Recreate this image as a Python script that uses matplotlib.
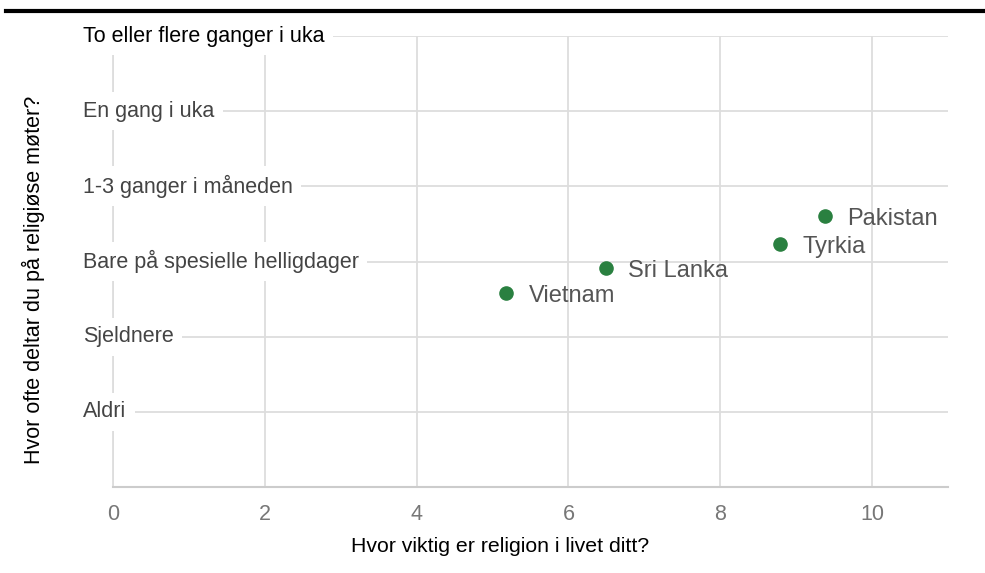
import matplotlib.pyplot as plt

plt.rcParams['font.family'] = ['Liberation Sans', 'DejaVu Sans']

frekvens = ['Aldri', 'Sjeldnere', 'Bare på spesielle helligdager',
            '1-3 ganger i måneden', 'En gang i uka', 'To eller flere ganger i uka']
land = ['Vietnam', 'Sri Lanka', 'Tyrkia', 'Pakistan']
viktighet = [5.18, 6.49, 8.79, 9.38]
deltakelse = [2.58, 2.91, 3.23, 3.60]
x_ticks = [0, 2, 4, 6, 8, 10]

fig = plt.figure(figsize=(9.85, 5.73), dpi=100)
ax = fig.add_axes([0.1147, 0.1501, 0.8477, 0.787])

ax.set_xlim(0, 11)
ax.set_ylim(0, 6)
ax.set_xticks(x_ticks)
ax.set_yticks(range(1, 7))
ax.set_yticklabels([])
ax.tick_params(axis='both', length=0)
ax.tick_params(axis='x', labelsize=15.5, labelcolor='#777777', pad=12)
ax.grid(True, color='#dddddd', linewidth=1.3)
ax.set_axisbelow(True)
for s in ['top', 'right']:
    ax.spines[s].set_visible(False)
ax.spines['left'].set_color('#dddddd')
ax.spines['left'].set_linewidth(1.3)
ax.spines['bottom'].set_color('#cccccc')
ax.spines['bottom'].set_linewidth(1.5)

# kategorinavn inne i plottet, med hvit bakgrunn
for i, navn in enumerate(frekvens):
    farge = 'black' if i == len(frekvens) - 1 else '#444444'
    ax.text(-0.036, i + 1, navn, transform=ax.get_yaxis_transform(),
            ha='left', va='center', fontsize=15.5, color=farge, clip_on=False,
            bbox=dict(facecolor='white', edgecolor='none', pad=6), zorder=3)

ax.scatter(viktighet, deltakelse, s=90, color='#2a8040', zorder=4)
for x, y, navn in zip(viktighet, deltakelse, land):
    ax.annotate(navn, (x, y), xytext=(16, -2), textcoords='offset points',
                va='center', ha='left', fontsize=17, color='#555555', zorder=4)

ax.set_xlabel('Hvor viktig er religion i livet ditt?', fontsize=15.3)
ax.xaxis.set_label_coords(0.4635, -0.112)
ax.set_ylabel('Hvor ofte deltar du på religiøse møter?', fontsize=15.5)
ax.yaxis.set_label_coords(-0.081, 0.459)

# tykk strek øverst
fig.add_artist(plt.Line2D([0.006, 1.0], [0.981, 0.981], color='black', linewidth=3,
                          transform=fig.transFigure))

fig.savefig('out.png', dpi=100)
